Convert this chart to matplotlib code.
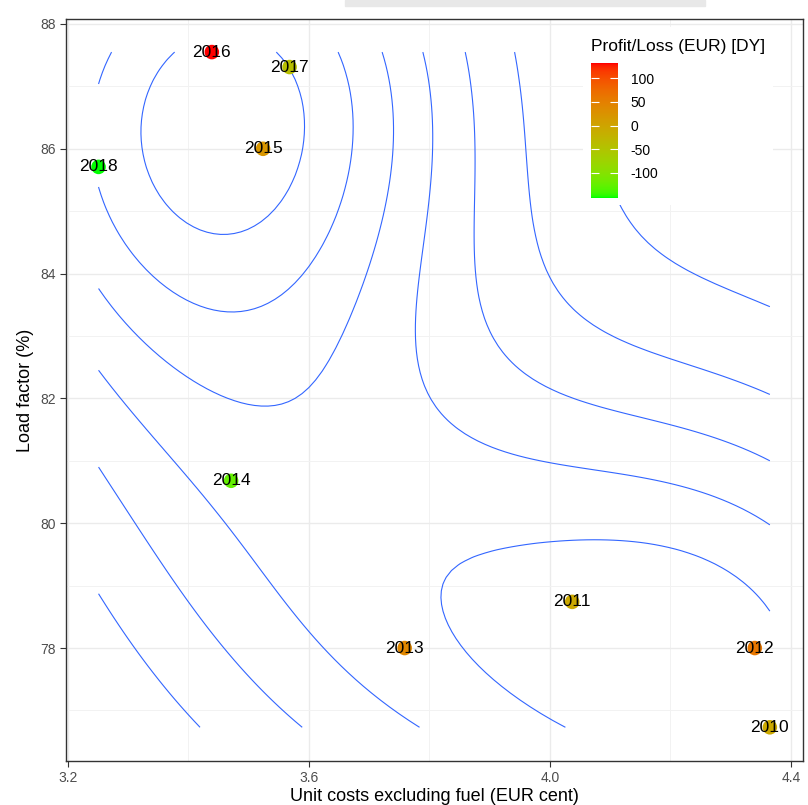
import math
import numpy as np
import matplotlib
matplotlib.use('Agg')
import matplotlib.pyplot as plt
from matplotlib.colors import ListedColormap, Normalize

plt.rcParams['font.family'] = ['Liberation Sans', 'DejaVu Sans']

# data
years = ['2010', '2011', '2012', '2013', '2014', '2015', '2016', '2017', '2018']
unit_costs = [4.365, 4.037, 4.340, 3.759, 3.471, 3.524, 3.439, 3.568, 3.251]
load_factor = [76.73, 78.74, 78.00, 78.00, 80.68, 86.00, 87.55, 87.31, 85.71]
profit_loss = [-5, -5, 60, 40, -125, 20, 132, -40, -153]
colorbar_ticks = [100, 50, 0, -50, -100]


def srgb_to_lab(rgb):
    c = np.asarray(rgb, float)
    lin = np.where(c <= 0.04045, c / 12.92, ((c + 0.055) / 1.055) ** 2.4)
    m = np.array([[0.4124, 0.3576, 0.1805],
                  [0.2126, 0.7152, 0.0722],
                  [0.0193, 0.1192, 0.9505]])
    xyz = m @ lin / np.array([0.95047, 1.0, 1.08883])
    d = 6 / 29
    f = np.where(xyz > d ** 3, np.cbrt(xyz), xyz / (3 * d * d) + 4 / 29)
    return np.array([116 * f[1] - 16, 500 * (f[0] - f[1]), 200 * (f[1] - f[2])])


def lab_to_srgb(lab):
    L, a, b = lab
    fy = (L + 16) / 116
    f = np.array([fy + a / 500, fy, fy - b / 200])
    d = 6 / 29
    xyz = np.where(f > d, f ** 3, 3 * d * d * (f - 4 / 29))
    xyz = xyz * np.array([0.95047, 1.0, 1.08883])
    minv = np.array([[3.2406, -1.5372, -0.4986],
                     [-0.9689, 1.8758, 0.0415],
                     [0.0557, -0.2040, 1.0570]])
    lin = minv @ xyz
    c = np.where(lin <= 0.0031308, 12.92 * lin,
                 1.055 * np.clip(lin, 0, None) ** (1 / 2.4) - 0.055)
    return np.clip(c, 0, 1)


def green_red_cmap():
    lo = srgb_to_lab([0, 1, 0])
    hi = srgb_to_lab([1, 0, 0])
    cols = [lab_to_srgb(lo + (hi - lo) * t) for t in np.linspace(0, 1, 256)]
    return ListedColormap(cols)


def r_pretty(lo, hi, n=10, h=1.5):
    # same idea as R's pretty()
    h5 = 0.5 + 1.5 * h
    cell = (hi - lo) / n
    U = 10 ** math.floor(math.log10(cell))
    unit = U
    if 2 * U - cell < h * (cell - unit):
        unit = 2 * U
        if 5 * U - cell < h5 * (cell - unit):
            unit = 5 * U
            if 10 * U - cell < h * (cell - unit):
                unit = 10 * U
    ns = math.floor(lo / unit + 1e-7)
    nu = math.ceil(hi / unit - 1e-7)
    return np.arange(ns, nu + 1) * unit


def bw_nrd(v):
    q1, q3 = np.percentile(v, [25, 75])
    return 4 * 1.06 * min(np.std(v, ddof=1), (q3 - q1) / 1.34) * len(v) ** -0.2


def kde2d(x, y, n=100):
    # grid over the data range, like ggplot's density_2d
    hx, hy = bw_nrd(x) / 4, bw_nrd(y) / 4
    gx = np.linspace(x.min(), x.max(), n)
    gy = np.linspace(y.min(), y.max(), n)
    ax_ = (gx[:, None] - x[None, :]) / hx
    ay_ = (gy[:, None] - y[None, :]) / hy
    kx = np.exp(-0.5 * ax_ ** 2) / (np.sqrt(2 * np.pi) * hx)
    ky = np.exp(-0.5 * ay_ ** 2) / (np.sqrt(2 * np.pi) * hy)
    z = ky @ kx.T / len(x)
    return gx, gy, z


def main():
    x = np.array(unit_costs)
    y = np.array(load_factor)

    fig = plt.figure(figsize=(8.08, 8.05), dpi=100)
    W, H = 808, 805
    ax = fig.add_axes([66 / W, 1 - 761 / H, (803 - 66) / W, (761 - 19) / H])

    # density contours
    gx, gy, z = kde2d(x, y)
    levels = r_pretty(z.min(), z.max())
    ax.contour(gx, gy, z, levels=levels, colors='#3366FF',
               linewidths=0.8, zorder=2)

    cmap = green_red_cmap()
    norm = Normalize(min(profit_loss), max(profit_loss))
    sc = ax.scatter(x, y, c=profit_loss, cmap=cmap, norm=norm, s=110,
                    linewidths=0, zorder=3)
    for xi, yi, lab in zip(x, y, years):
        ax.text(xi, yi, lab, ha='center', va='center', fontsize=12.5,
                color='black', zorder=4)

    ax.set_xlim(3.197, 4.42)
    ax.set_ylim(76.19, 88.08)
    ax.set_xticks([3.2, 3.6, 4.0, 4.4])
    ax.set_xticklabels(['3.2', '3.6', '4.0', '4.4'])
    ax.set_xticks([3.4, 3.8, 4.2], minor=True)
    ax.set_yticks([78, 80, 82, 84, 86, 88])
    ax.set_yticks([77, 79, 81, 83, 85, 87], minor=True)
    ax.grid(True, which='major', color='#EBEBEB', lw=1.0, zorder=0)
    ax.grid(True, which='minor', color='#F2F2F2', lw=0.7, zorder=0)
    ax.set_axisbelow(True)
    for s in ax.spines.values():
        s.set_color('#333333')
        s.set_linewidth(1.0)
    ax.tick_params(which='major', length=4, color='#333333',
                   labelcolor='#4D4D4D', labelsize=10)
    ax.tick_params(which='minor', length=0)
    ax.set_xlabel('Unit costs excluding fuel (EUR cent)', fontsize=13,
                  color='black', labelpad=2)
    ax.set_ylabel('Load factor (%)', fontsize=13, color='black',
                  labelpad=4)

    # legend box inside the panel
    bg = fig.add_axes([583 / W, 1 - 205 / H, (773 - 583) / W, (205 - 27) / H])
    bg.set_facecolor('white')
    bg.set_xticks([])
    bg.set_yticks([])
    for s in bg.spines.values():
        s.set_visible(False)
    fig.text(591 / W, 1 - 47 / H, 'Profit/Loss (EUR) [DY]', fontsize=12.5,
             ha='left', va='center')
    cax = fig.add_axes([591 / W, 1 - 198 / H, 27 / W, (198 - 63) / H])
    cb = fig.colorbar(sc, cax=cax)
    cb.outline.set_visible(False)
    cb.set_ticks(colorbar_ticks)
    cb.set_ticklabels([str(t) for t in colorbar_ticks])
    cax.tick_params(length=6, color='white', width=0.8, direction='in',
                    labelsize=10, pad=9, right=True, left=True)

    # faint strip at the top from the screenshot
    fig.patches.append(plt.Rectangle((345 / W, 1 - 6 / H), 360 / W, 6 / H,
                                     transform=fig.transFigure,
                                     color='#E8E8E8', zorder=0))

    fig.savefig('out.png', dpi=100)


if __name__ == '__main__':
    main()
